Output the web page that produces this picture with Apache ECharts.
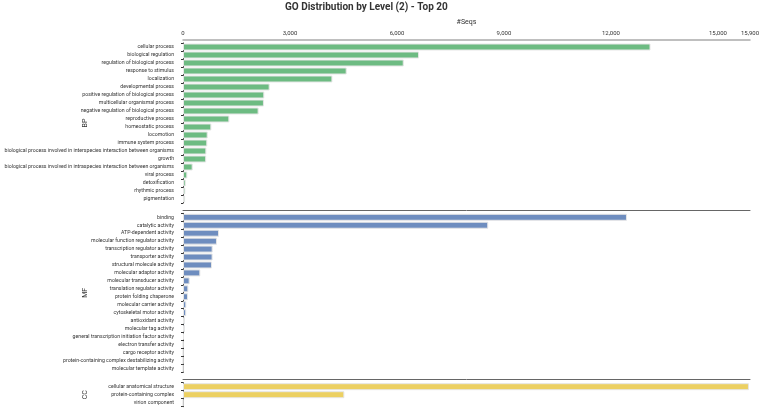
<!DOCTYPE html>
<html>
<head>
<meta charset="utf-8">
<script src="https://cdn.jsdelivr.net/npm/echarts@6/dist/echarts.min.js"></script>
<style>
  html, body { margin: 0; padding: 0; background: #fff; }
  #chart-holder { width: 759px; height: 409px; }
</style>
</head>
<body>
<div id="chart-holder"></div>
<script>
// GO terms per level-2 category, top 20 each
var bpNames = [
  'cellular process', 'biological regulation', 'regulation of biological process',
  'response to stimulus', 'localization', 'developmental process',
  'positive regulation of biological process', 'multicellular organismal process',
  'negative regulation of biological process', 'reproductive process',
  'homeostatic process', 'locomotion', 'immune system process',
  'biological process involved in interspecies interaction between organisms',
  'growth', 'biological process involved in intraspecies interaction between organisms',
  'viral process', 'detoxification', 'rhythmic process', 'pigmentation'
];
var bpValues = [13110, 6620, 6190, 4590, 4190, 2430, 2280, 2270, 2120, 1300,
  795, 692, 681, 655, 650, 271, 121, 75, 65, 60];

var mfNames = [
  'binding', 'catalytic activity', 'ATP-dependent activity',
  'molecular function regulator activity', 'transcription regulator activity',
  'transporter activity', 'structural molecule activity', 'molecular adaptor activity',
  'molecular transducer activity', 'translation regulator activity',
  'protein folding chaperone', 'molecular carrier activity', 'cytoskeletal motor activity',
  'antioxidant activity', 'molecular tag activity',
  'general transcription initiation factor activity', 'electron transfer activity',
  'cargo receptor activity', 'protein-containing complex destabilizing activity',
  'molecular template activity'
];
var mfValues = [12450, 8560, 1010, 953, 832, 830, 813, 486, 187, 150,
  140, 93, 90, 56, 55, 28, 10, 8, 6, 5];

var ccNames = ['cellular anatomical structure', 'protein-containing complex', 'virion component'];
var ccValues = [15870, 4525, 5];

var groupNames = ['BP', 'MF', 'CC'];
var groupColors = ['#6dbb82', '#6e8dbf', '#ecd062'];

var dom = document.getElementById('chart-holder');
var myChart = echarts.init(dom, null, { renderer: 'canvas' });

var fontFamily = 'Roboto';

// three stacked grids sharing the same x range
var grids = [
  { left: 183, right: 9, top: 43, height: 160, outerBoundsMode: 'none' },
  { left: 183, right: 9, top: 213.3, height: 159, outerBoundsMode: 'none' },
  { left: 183, right: 9, top: 382.7, height: 24, outerBoundsMode: 'none' }
];

function makeXAxis(i) {
  var first = i === 0;
  return {
    type: 'value',
    gridIndex: i,
    position: 'top',
    offset: 3,
    min: 0,
    max: 15900,
    interval: 3000,
    name: first ? '#Seqs' : '',
    nameLocation: 'middle',
    nameGap: 14,
    nameMoveOverlap: false,
    nameTextStyle: { fontSize: 7, color: '#333', fontFamily: fontFamily },
    axisLine: { show: true, lineStyle: { color: first ? '#aaa' : '#666', width: first ? 1.5 : 1 } },
    axisTick: { show: false },
    splitLine: { show: false },
    axisLabel: { show: first, fontSize: 6, color: '#333', margin: 4, fontFamily: fontFamily }
  };
}

function makeYAxis(i, names) {
  return {
    type: 'category',
    gridIndex: i,
    data: names,
    inverse: true,
    offset: 5,
    name: groupNames[i],
    nameLocation: 'middle',
    nameGap: 89,
    nameMoveOverlap: false,
    nameTextStyle: { fontSize: 7, color: '#333', fontFamily: fontFamily },
    axisLine: { show: true, lineStyle: { color: '#333', width: 1 } },
    axisTick: { show: true, length: 2, lineStyle: { color: '#333' } },
    axisLabel: { fontSize: 5.2, color: '#333', margin: 4, fontFamily: fontFamily, interval: 0 }
  };
}

function makeSeries(i, values) {
  return {
    type: 'bar',
    xAxisIndex: i,
    yAxisIndex: i,
    data: values,
    barWidth: 7,
    itemStyle: { color: groupColors[i], borderColor: '#e6e6e6', borderWidth: 1 }
  };
}

var option = {
  backgroundColor: '#fff',
  animation: false,
  title: {
    text: 'GO Distribution by Level (2) - Top 20',
    left: 280,
    top: -3,
    textStyle: { fontSize: 10, fontWeight: 'bold', color: '#333', fontFamily: fontFamily }
  },
  grid: grids,
  xAxis: [makeXAxis(0), makeXAxis(1), makeXAxis(2)],
  yAxis: [makeYAxis(0, bpNames), makeYAxis(1, mfNames), makeYAxis(2, ccNames)],
  series: [makeSeries(0, bpValues), makeSeries(1, mfValues), makeSeries(2, ccValues)]
};

myChart.setOption(option);
</script>
</body>
</html>
